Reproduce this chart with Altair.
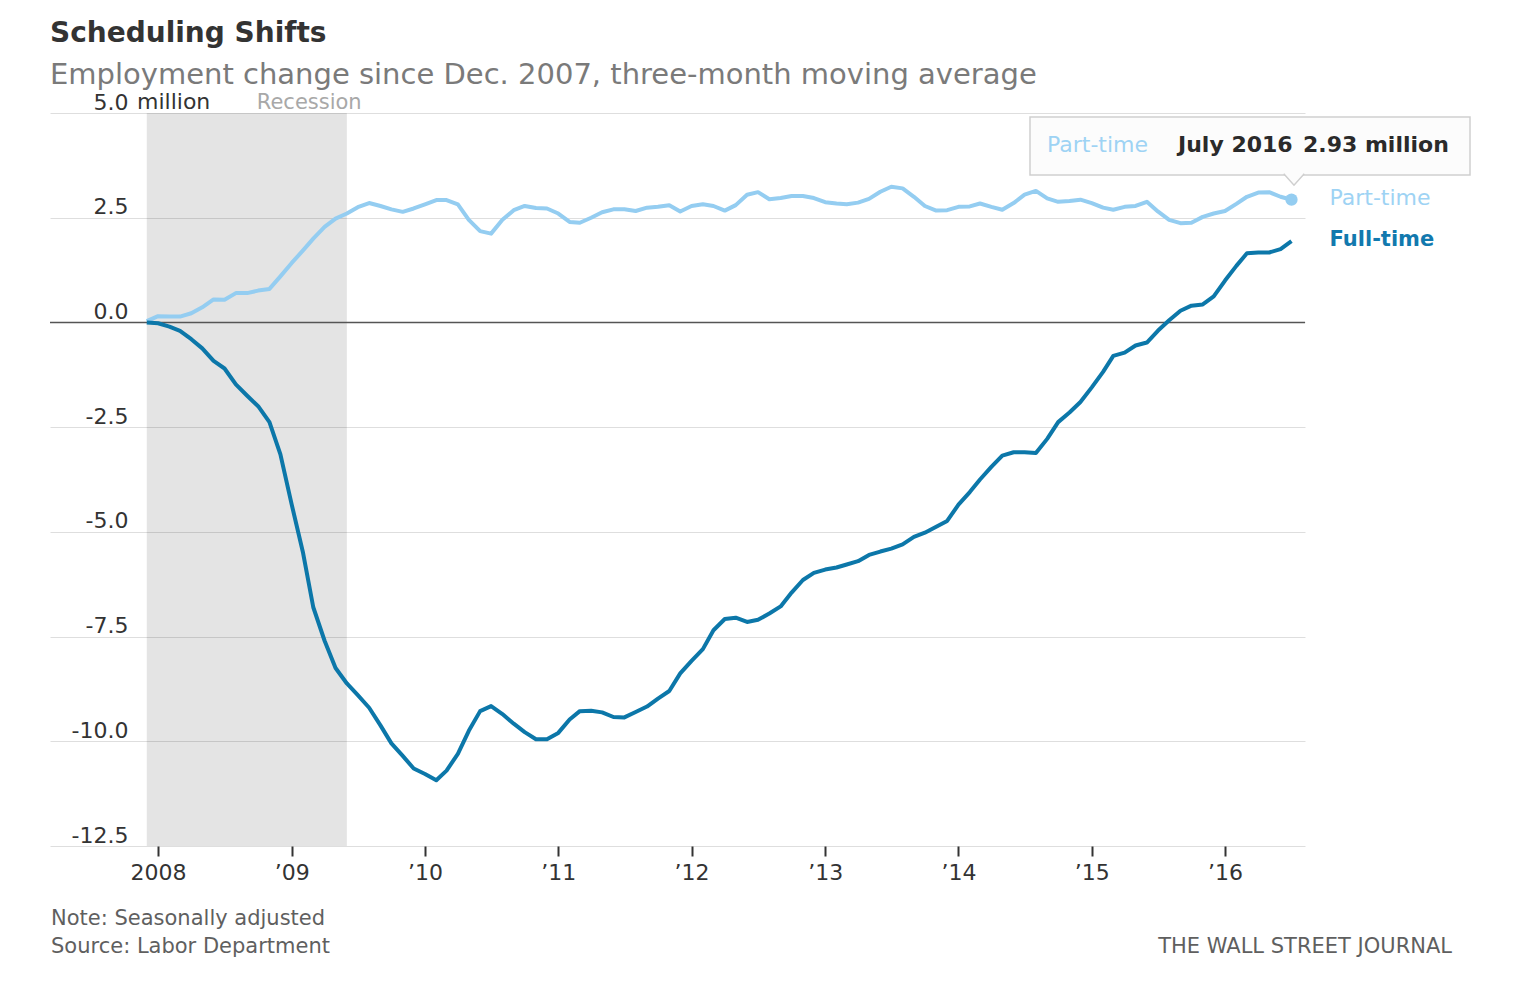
import altair as alt
import pandas as pd

# ---------------- data ----------------
months = list(pd.date_range("2007-12-01", periods=104, freq="MS"))

full_time = [
    0.00, -0.02, -0.10, -0.20, -0.40, -0.62, -0.92, -1.10, -1.48, -1.75,
    -2.00, -2.38, -3.15, -4.35, -5.50, -6.80, -7.60, -8.25, -8.62, -8.90,
    -9.20, -9.62, -10.05, -10.35, -10.65, -10.78, -10.93, -10.70, -10.30, -9.75,
    -9.28, -9.16, -9.35, -9.58, -9.78, -9.95, -9.95, -9.80, -9.48, -9.28,
    -9.27, -9.31, -9.42, -9.43, -9.30, -9.17, -8.98, -8.80, -8.38, -8.08,
    -7.80, -7.35, -7.08, -7.05, -7.15, -7.10, -6.95, -6.78, -6.45, -6.15,
    -5.98, -5.90, -5.85, -5.78, -5.70, -5.55, -5.47, -5.40, -5.30, -5.12,
    -5.02, -4.88, -4.74, -4.35, -4.05, -3.75, -3.45, -3.18, -3.10, -3.10,
    -3.12, -2.78, -2.38, -2.15, -1.90, -1.55, -1.18, -0.80, -0.72, -0.55,
    -0.48, -0.20, 0.05, 0.28, 0.40, 0.43, 0.62, 1.00, 1.35, 1.65,
    1.67, 1.67, 1.75, 1.94,
]

part_time = [
    0.03, 0.15, 0.14, 0.14, 0.22, 0.36, 0.55, 0.54, 0.70, 0.70,
    0.76, 0.80, 1.10, 1.42, 1.72, 2.00, 2.28, 2.48, 2.60, 2.75,
    2.85, 2.78, 2.70, 2.64, 2.72, 2.82, 2.92, 2.92, 2.82, 2.45,
    2.18, 2.12, 2.45, 2.68, 2.78, 2.73, 2.72, 2.60, 2.40, 2.38,
    2.50, 2.63, 2.70, 2.70, 2.66, 2.74, 2.76, 2.80, 2.65, 2.78,
    2.82, 2.78, 2.67, 2.80, 3.05, 3.11, 2.94, 2.97, 3.02, 3.02,
    2.97, 2.87, 2.84, 2.82, 2.86, 2.95, 3.12, 3.24, 3.20, 3.00,
    2.78, 2.67, 2.68, 2.76, 2.77, 2.84, 2.76, 2.69, 2.85, 3.05,
    3.14, 2.96, 2.88, 2.90, 2.93, 2.85, 2.74, 2.69, 2.76, 2.78,
    2.88, 2.65, 2.45, 2.37, 2.38, 2.52, 2.60, 2.66, 2.83, 3.00,
    3.10, 3.11, 3.00, 2.93,
]

series_names = ["Part-time", "Full-time"]
series_colors = ["#94cdf1", "#0c77a9"]
label_colors = ["#9ed3f4", "#1279ae"]
y_ticks = [-12.5, -10.0, -7.5, -5.0, -2.5, 0.0, 2.5, 5.0]
x_tick_years = list(range(2008, 2017))
recession_start = [pd.Timestamp("2007-12-01")]
recession_end = [pd.Timestamp("2009-06-01")]

tooltip_series = "Part-time"
tooltip_month = "July 2016"
tooltip_value = "2.93 million"

note_text = "Note: Seasonally adjusted"
source_text = "Source: Labor Department"
brand_text = "THE WALL STREET JOURNAL"

FONT = "DejaVu Sans"

# ---------------- frames ----------------
n = len(months)
df = pd.DataFrame({
    "date": months * 2,
    "value": part_time + full_time,
    "series": ["Part-time"] * n + ["Full-time"] * n,
})
last = df.groupby("series", as_index=False).last()
rec = pd.DataFrame({"date": recession_start, "end": recession_end, "value": [5.0]})
zero = pd.DataFrame({"value": [0.0]})
one = pd.DataFrame({"a": [0]})

x_enc = alt.X(
    "date:T",
    title=None,
    scale=alt.Scale(domain=[alt.DateTime(year=2007, month=3, date=11),
                            alt.DateTime(year=2016, month=8, date=7)]),
    axis=alt.Axis(
        values=[alt.DateTime(year=y, month=1, date=1) for y in x_tick_years],
        labelExpr="year(datum.value) == 2008 ? '2008' : '\u2019' + timeFormat(datum.value, '%y')",
        domain=False, grid=False, ticks=True, tickColor="#333333", tickWidth=2,
        tickSize=10, labelPadding=6, labelFont=FONT, labelFontSize=22,
        labelColor="#333333",
    ),
)
y_enc = alt.Y(
    "value:Q",
    title=None,
    scale=alt.Scale(domain=[-12.5, 5], nice=False, zero=False),
    axis=alt.Axis(
        values=y_ticks,
        labelExpr="datum.value < 0 ? '-' + format(-datum.value, '.1f') : format(datum.value, '.1f')",
        domain=False, ticks=False, grid=True, gridColor="#dedede", gridWidth=1,
        labelAlign="right", labelBaseline="alphabetic", labelOffset=-4,
        labelPadding=-78, labelFont=FONT, labelFontSize=22, labelColor="#333333",
    ),
)
color_enc = alt.Color("series:N", legend=None,
                      scale=alt.Scale(domain=series_names, range=series_colors))

recession = alt.Chart(rec).mark_rect(color="#000000", opacity=0.105).encode(
    x=x_enc, x2="end:T")

zero_rule = alt.Chart(zero).mark_rule(color="#555555", strokeWidth=1.6).encode(y=y_enc)

lines = alt.Chart(df).mark_line(strokeWidth=4, strokeJoin="round").encode(
    x=x_enc, y=y_enc, color=color_enc, detail="series:N")

end_point = alt.Chart(last).transform_filter(
    alt.datum.series == "Part-time").mark_point(
    filled=True, size=150, opacity=1, color=series_colors[0]).encode(x=x_enc, y=y_enc)

pt_label = alt.Chart(last).transform_filter(alt.datum.series == "Part-time").mark_text(
    align="left", baseline="middle", dx=38, dy=-2, font=FONT, fontSize=22,
    color=label_colors[0]).encode(x=x_enc, y=y_enc, text="series:N")
ft_label = alt.Chart(last).transform_filter(alt.datum.series == "Full-time").mark_text(
    align="left", baseline="middle", dx=38, dy=-1, font=FONT, fontSize=21,
    fontWeight="bold", color=label_colors[1]).encode(x=x_enc, y=y_enc, text="series:N")

million = alt.Chart(rec).mark_text(
    align="left", baseline="alphabetic", dy=-4, font=FONT, fontSize=22, color="#333333"
).encode(x=alt.value(87), y=y_enc, text=alt.value("million"))

rec_label = alt.Chart(rec).mark_text(
    align="left", baseline="alphabetic", dx=110, dy=-4, font=FONT, fontSize=21,
    color="#a8a8a8").encode(x=x_enc, y=y_enc, text=alt.value("Recession"))

# tooltip box
box = alt.Chart(one).mark_rect(fill="#fcfcfc", stroke="#cfcfcf", strokeWidth=1.5).encode(
    x=alt.value(980), x2=alt.value(1420), y=alt.value(4), y2=alt.value(62))
notch = alt.Chart(one).mark_point(
    shape="M-1,-0.12L0,1L1,-0.12", filled=False, fill="#fcfcfc", fillOpacity=1,
    stroke="#cfcfcf", strokeWidth=1.5, size=420, opacity=1).encode(
    x=alt.value(1244), y=alt.value(62))
tt1 = alt.Chart(one).mark_text(align="left", baseline="middle", font=FONT, fontSize=22,
                               color=label_colors[0]).encode(
    x=alt.value(997), y=alt.value(32), text=alt.value(tooltip_series))
tt2 = alt.Chart(one).mark_text(align="left", baseline="middle", font=FONT, fontSize=22,
                               fontWeight="bold", color="#2a2a2a").encode(
    x=alt.value(1128), y=alt.value(32), text=alt.value(tooltip_month))
tt3 = alt.Chart(one).mark_text(align="left", baseline="middle", font=FONT, fontSize=22,
                               fontWeight="bold", color="#2a2a2a").encode(
    x=alt.value(1253), y=alt.value(32), text=alt.value(tooltip_value))

# footer
note = alt.Chart(one).mark_text(align="left", baseline="middle", font=FONT, fontSize=21,
                                color="#5f5f5f").encode(
    x=alt.value(1), y=alt.value(806), text=alt.value(note_text))
source = alt.Chart(one).mark_text(align="left", baseline="middle", font=FONT, fontSize=21,
                                  color="#5f5f5f").encode(
    x=alt.value(1), y=alt.value(834), text=alt.value(source_text))
brand = alt.Chart(one).mark_text(align="right", baseline="middle", font=FONT, fontSize=21,
                                 color="#5f5f5f").encode(
    x=alt.value(1402), y=alt.value(834), text=alt.value(brand_text))

chart = alt.layer(
    recession, zero_rule, lines, end_point, pt_label, ft_label, million, rec_label,
    box, notch, tt1, tt2, tt3, note, source, brand,
).properties(
    width=1255,
    height=733,
    background="white",
    autosize=alt.AutoSizeParams(type="none"),
    padding={"left": 42, "top": 105, "right": 190, "bottom": 130},
    title=alt.TitleParams(
        text="Scheduling Shifts",
        subtitle="Employment change since Dec. 2007, three-month moving average",
        anchor="start", frame="group", offset=1,
        font=FONT, fontSize=28, fontWeight="bold", color="#333333",
        subtitleFont=FONT, subtitleFontSize=29, subtitleColor="#7a7a7a",
        subtitlePadding=13,
    ),
).configure_view(stroke=None)

chart.save("out.html", embed_options={"renderer": "svg", "actions": False})
